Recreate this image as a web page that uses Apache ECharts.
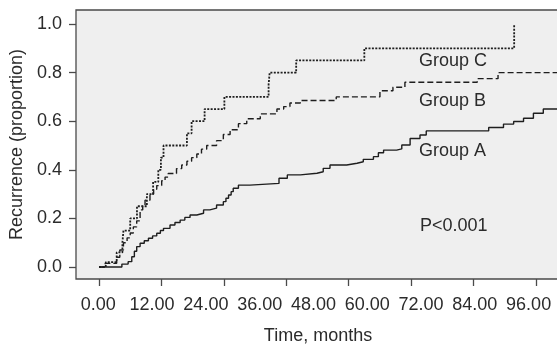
<!DOCTYPE html>
<html>
<head>
<meta charset="utf-8">
<script src="https://cdn.jsdelivr.net/npm/echarts@6/dist/echarts.min.js"></script>
<style>
  html, body { margin: 0; padding: 0; background: #fff; }
  #chart { width: 557px; height: 344px; }
</style>
</head>
<body>
<div id="chart"></div>
<script>
// tick values shown on the axes
const xTickValues = [0, 12, 24, 36, 48, 60, 72, 84];
const xLabelValues = [0, 12, 24, 36, 48, 60, 72, 84, 96];
const yTickValues = [0, 0.2, 0.4, 0.6, 0.8, 1.0];

// [months, cumulative recurrence]
const groupA = [
  [0, 0], [4.4, 0.012], [5.6, 0.022], [6.3, 0.042], [6.8, 0.065], [7.25, 0.084], [7.9, 0.098],
  [8.7, 0.108], [9.5, 0.118], [10.3, 0.128], [11.1, 0.139], [11.8, 0.15], [12.4, 0.159],
  [13.65, 0.173], [14.6, 0.183], [15.6, 0.193], [16.5, 0.204], [17.5, 0.214], [18.8, 0.221],
  [20.1, 0.235], [21.3, 0.242], [22.6, 0.255], [23.9, 0.269], [24.4, 0.283], [24.9, 0.296],
  [25.4, 0.31], [25.8, 0.324], [26.8, 0.337], [29.0, 0.344], [34.6, 0.365], [36.2, 0.379],
  [38.7, 0.386], [41.9, 0.392], [43.1, 0.406], [44.4, 0.42], [47.6, 0.427], [49.6, 0.433],
  [50.8, 0.443], [52.75, 0.454], [53.7, 0.47], [54.7, 0.481], [57.2, 0.486], [58.2, 0.502],
  [59.8, 0.529], [61.7, 0.543], [62.9, 0.56], [74.9, 0.574], [77.75, 0.588], [79.7, 0.599],
  [81.6, 0.612], [83.5, 0.633], [85.4, 0.65], [92, 0.65]
];
const groupB = [
  [0, 0], [1.2, 0.015], [3.4, 0.04], [4.0, 0.07], [4.7, 0.10], [5.4, 0.12], [6.0, 0.14],
  [6.6, 0.165], [7.25, 0.19], [7.9, 0.235], [8.4, 0.255], [8.85, 0.275], [9.8, 0.30],
  [10.5, 0.32], [11.1, 0.335], [12.05, 0.355], [12.7, 0.37], [13.3, 0.385], [14.9, 0.405],
  [15.9, 0.42], [16.9, 0.435], [17.8, 0.45], [18.8, 0.465], [19.7, 0.485], [20.7, 0.50],
  [22.6, 0.52], [23.9, 0.545], [25.2, 0.565], [26.8, 0.59], [28.4, 0.61], [31.0, 0.63],
  [34.2, 0.65], [35.5, 0.66], [36.7, 0.675], [38.7, 0.685], [45.6, 0.70], [54.0, 0.725],
  [56.5, 0.74], [58.8, 0.76], [72.7, 0.775], [76.7, 0.80], [92, 0.80]
];
const groupC = [
  [0, 0], [1.3, 0.02], [3.4, 0.06], [4.5, 0.10], [4.7, 0.15], [6.0, 0.20], [7.3, 0.25],
  [9.2, 0.30], [10.4, 0.35], [11.4, 0.40], [11.9, 0.45], [12.4, 0.50], [16.9, 0.55],
  [17.8, 0.60], [20.3, 0.65], [24.1, 0.70], [32.6, 0.75], [32.8, 0.80], [37.9, 0.85],
  [51.0, 0.90], [79.8, 1.0]
];

const FONT = '"Liberation Sans", Arial, Helvetica, sans-serif';
const TXT = '#2b2b2b';
const INK = '#1e1e1e';

const chart = echarts.init(document.getElementById('chart'));

function km(name, data, dash, width) {
  return {
    name: name,
    type: 'line',
    step: 'end',
    xAxisIndex: 0,
    data: data,
    showSymbol: false,
    silent: true,
    lineStyle: { color: INK, width: width, type: dash }
  };
}

const option = {
  animation: false,
  backgroundColor: '#ffffff',
  grid: {
    left: 76, top: 10, right: -3, bottom: 65,
    outerBoundsMode: 'none',
    containLabel: false,
    show: true,
    backgroundColor: '#efefef',
    borderColor: '#4a4a4a',
    borderWidth: 1.3
  },
  xAxis: [
    {
      // data axis, only its ticks are drawn
      type: 'value',
      min: -4.42,
      max: 88.61,
      axisLine: { show: false, onZero: false },
      axisTick: { show: true, inside: false, length: 7, customValues: xTickValues, lineStyle: { color: '#4a4a4a', width: 1.3 } },
      axisLabel: { show: false },
      splitLine: { show: false }
    },
    {
      // label axis, the printed labels sit on a slightly narrower spacing
      type: 'value',
      min: -4.975,
      max: 103.0,
      position: 'bottom',
      axisLine: { show: false, onZero: false },
      axisTick: { show: false },
      splitLine: { show: false },
      axisLabel: {
        customValues: xLabelValues,
        formatter: v => v.toFixed(2),
        margin: 17,
        fontSize: 18,
        color: TXT,
        fontFamily: FONT
      },
      name: 'Time, months',
      nameLocation: 'middle',
      nameGap: 48,
      nameTextStyle: { fontSize: 18, color: TXT, fontFamily: FONT }
    }
  ],
  yAxis: {
    type: 'value',
    min: -0.0494,
    max: 1.0576,
    axisLine: { show: false, onZero: false },
    axisTick: { show: true, inside: false, length: 7, customValues: yTickValues, lineStyle: { color: '#4a4a4a', width: 1.3 } },
    axisLabel: {
      customValues: yTickValues,
      formatter: v => v.toFixed(1),
      margin: 14,
      fontSize: 18,
      color: TXT,
      fontFamily: FONT
    },
    splitLine: { show: false },
    name: 'Recurrence (proportion)',
    nameLocation: 'middle',
    nameGap: 47,
    nameTextStyle: { fontSize: 18, color: TXT, fontFamily: FONT }
  },
  graphic: [
    { type: 'text', left: 419, top: 52, style: { text: 'Group C', fontSize: 18, fontFamily: FONT, fill: TXT } },
    { type: 'text', left: 419, top: 92, style: { text: 'Group B', fontSize: 18, fontFamily: FONT, fill: TXT } },
    { type: 'text', left: 419, top: 142, style: { text: 'Group A', fontSize: 18, fontFamily: FONT, fill: TXT } },
    { type: 'text', left: 420, top: 217, style: { text: 'P<0.001', fontSize: 18, fontFamily: FONT, fill: TXT } }
  ],
  series: [
    km('Group A', groupA, 'solid', 1.4),
    km('Group B', groupB, [6, 3], 1.4),
    km('Group C', groupC, [2, 1.4], 1.8)
  ]
};

chart.setOption(option);
</script>
</body>
</html>
